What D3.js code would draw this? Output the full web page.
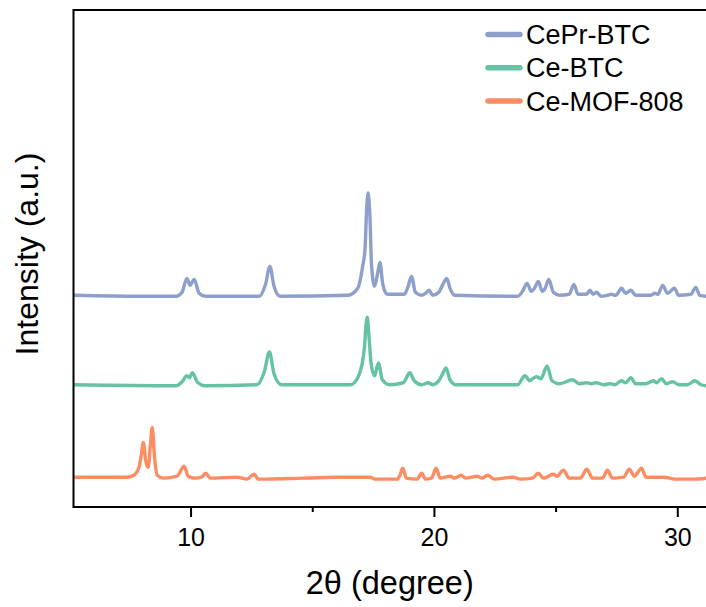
<!DOCTYPE html>
<html>
<head>
<meta charset="utf-8">
<script src="https://cdn.jsdelivr.net/npm/d3@7"></script>
<style>
  body { margin: 0; background: #fff; }
  svg { display: block; font-family: "Liberation Sans", Arial, sans-serif; }
</style>
</head>
<body>
<svg></svg>
<script>
const width = 706, height = 607;

// series names and colours
const names = ["CePr-BTC", "Ce-BTC", "Ce-MOF-808"];
const colors = ["#8da0cb", "#66c2a5", "#fc8d62"];
// vertical stacking offset of each pattern (a.u.)
const offsets = [212, 122, 28];

// [2theta, intensity above offset]
const cePrBTC = [
  [5.2, 1], [7.9, 0], [9.41, 0], [9.65, 4], [9.85, 18], [9.98, 11], [10.15, 17], [10.35, 3], [10.6, 0],
  [12.83, 0], [13.08, 12], [13.26, 30], [13.43, 10], [13.68, 0],
  [16.47, 1], [16.87, 8], [17.07, 30], [17.17, 48], [17.24, 90], [17.30, 104], [17.37, 80], [17.44, 30],
  [17.56, 10], [17.68, 22], [17.78, 34], [17.90, 12], [18.08, 2],
  [18.79, 2], [18.94, 10], [19.08, 20], [19.24, 4], [19.5, 1], [19.7, 4], [19.8, 6], [19.95, 1],
  [20.2, 4], [20.39, 13], [20.53, 18], [20.66, 8], [20.86, 1],
  [23.44, 0], [23.64, 5], [23.83, 13], [24.0, 5], [24.13, 8], [24.29, 15], [24.45, 5], [24.57, 8],
  [24.72, 17], [24.91, 4], [25.16, 1], [25.56, 2], [25.75, 12], [25.92, 2],
  [26.27, 2], [26.41, 6], [26.54, 2], [26.68, 4], [26.87, 0], [27.13, 1], [27.28, 2], [27.48, 1],
  [27.71, 8], [27.88, 3], [28.09, 6], [28.29, 1], [28.9, 1], [29.08, 3], [29.2, 2], [29.40, 11],
  [29.6, 3], [29.88, 8], [30.06, 1], [30.56, 2], [30.76, 9], [30.92, 1], [31.2, 0]
];
const ceBTC = [
  [5.2, 1], [9.41, 0], [9.65, 4], [9.85, 10], [9.95, 8], [10.07, 13], [10.30, 3], [10.6, 0],
  [12.73, 1], [13.03, 14], [13.24, 34], [13.43, 12], [13.74, 1],
  [16.57, 1], [16.87, 8], [17.05, 22], [17.15, 40], [17.21, 62], [17.26, 69], [17.33, 50], [17.42, 22],
  [17.56, 10], [17.72, 23], [17.88, 6], [18.18, 1],
  [18.74, 3], [19.01, 13], [19.19, 5], [19.5, 1], [19.77, 3], [19.95, 1],
  [20.2, 5], [20.34, 11], [20.50, 18], [20.66, 6], [20.91, 1],
  [23.44, 1], [23.74, 10], [23.94, 5], [24.05, 7], [24.22, 9], [24.40, 7], [24.65, 20], [24.85, 5],
  [25.16, 2], [25.70, 6], [25.97, 2], [26.27, 3], [26.47, 2], [26.67, 3], [26.98, 1],
  [27.23, 2], [27.43, 1], [27.71, 5], [27.88, 3], [28.09, 8], [28.29, 2], [28.7, 2],
  [29.02, 5], [29.15, 3], [29.35, 7], [29.55, 2], [29.81, 4], [30.06, 1], [30.41, 1],
  [30.73, 5], [30.97, 1], [31.2, 0]
];
const ceMOF808 = [
  [5.2, 2], [7.37, 2], [7.67, 4], [7.88, 12], [7.98, 25], [8.06, 37], [8.16, 18], [8.26, 12],
  [8.35, 35], [8.43, 52], [8.51, 25], [8.63, 4], [8.89, 1],
  [9.44, 3], [9.74, 13], [9.9, 3], [10.2, 1], [10.45, 2], [10.62, 6], [10.81, 1],
  [11.90, 2], [12.32, 0], [12.61, 5], [12.78, 0], [14.61, 1], [15.94, 2], [17.38, 2], [17.58, 0],
  [18.49, 0], [18.59, 3], [18.72, 11], [18.87, 1], [19.30, 0], [19.5, 6], [19.65, 0], [19.9, 1],
  [20.09, 11], [20.26, 1], [20.66, 3], [20.86, 1], [21.11, 4], [21.32, 1], [21.78, 3], [21.97, 1],
  [22.21, 4], [22.48, 0], [23.26, 2], [23.54, 0], [24.05, 1], [24.29, 6], [24.5, 1],
  [24.91, 5], [25.06, 3], [25.32, 9], [25.56, 1], [26.02, 1], [26.28, 10], [26.52, 1],
  [26.93, 1], [27.13, 9], [27.33, 1], [27.79, 2], [28.03, 10], [28.24, 3], [28.53, 11],
  [28.72, 2], [29.1, 2], [29.45, 2], [29.91, 0], [30.61, 0], [31.2, 1]
];
const series = [cePrBTC, ceBTC, ceMOF808];

const majorTicks = [10, 20, 30];
const minorTicks = [15, 25];

const margin = { left: 73.5, right: 706, top: 10, bottom: 507 };

const svg = d3.select("svg").attr("width", width).attr("height", height);

const x = d3.scaleLinear().domain([5.19, 31.18]).range([margin.left, margin.right]);
const y = d3.scaleLinear().domain([0, 500]).range([margin.bottom, margin.top]);

svg.append("defs").append("clipPath").attr("id", "plot")
  .append("rect")
  .attr("x", margin.left).attr("y", margin.top)
  .attr("width", margin.right - margin.left).attr("height", margin.bottom - margin.top);

// patterns
const line = d3.line()
  .x(d => x(d[0]))
  .y(d => y(d[1]))
  .curve(d3.curveMonotoneX);

series.forEach((s, i) => {
  svg.append("path")
    .datum(s.map(d => [d[0], d[1] + offsets[i]]))
    .attr("clip-path", "url(#plot)")
    .attr("fill", "none")
    .attr("stroke", colors[i])
    .attr("stroke-width", 3.4)
    .attr("stroke-linejoin", "round")
    .attr("d", line);
});

// frame (right side is off the page)
svg.append("rect")
  .attr("x", margin.left).attr("y", margin.top)
  .attr("width", margin.right - margin.left + 20).attr("height", margin.bottom - margin.top)
  .attr("fill", "none").attr("stroke", "#000").attr("stroke-width", 2);

// x axis
const xAxis = svg.append("g")
  .attr("transform", `translate(0,${margin.bottom})`)
  .call(d3.axisBottom(x).tickValues(majorTicks).tickSize(10).tickPadding(11).tickSizeOuter(0));
xAxis.select(".domain").remove();
xAxis.selectAll(".tick line").attr("stroke-width", 2);
xAxis.selectAll(".tick text")
  .attr("font-size", 25)
  .attr("font-family", "Liberation Sans, Arial, sans-serif")
  .attr("fill", "#000");

const xMinor = svg.append("g")
  .attr("transform", `translate(0,${margin.bottom})`)
  .call(d3.axisBottom(x).tickValues(minorTicks).tickSize(5).tickFormat(""));
xMinor.select(".domain").remove();
xMinor.selectAll(".tick line").attr("stroke-width", 2);

// axis titles
svg.append("text")
  .attr("x", (margin.left + margin.right) / 2).attr("y", 594)
  .attr("text-anchor", "middle").attr("font-size", 32.5)
  .text("2θ (degree)");

svg.append("text")
  .attr("transform", "translate(38,254) rotate(-90)")
  .attr("text-anchor", "middle").attr("font-size", 32)
  .text("Intensity (a.u.)");

// legend
const legend = svg.append("g");
names.forEach((n, i) => {
  const ly = 34.5 + i * 33.3;
  legend.append("line")
    .attr("x1", 488).attr("x2", 520).attr("y1", ly).attr("y2", ly)
    .attr("stroke", colors[i]).attr("stroke-width", 5.5).attr("stroke-linecap", "round");
  legend.append("text")
    .attr("x", 526).attr("y", ly).attr("dy", "0.35em")
    .attr("font-size", 27)
    .text(n);
});
</script>
</body>
</html>
